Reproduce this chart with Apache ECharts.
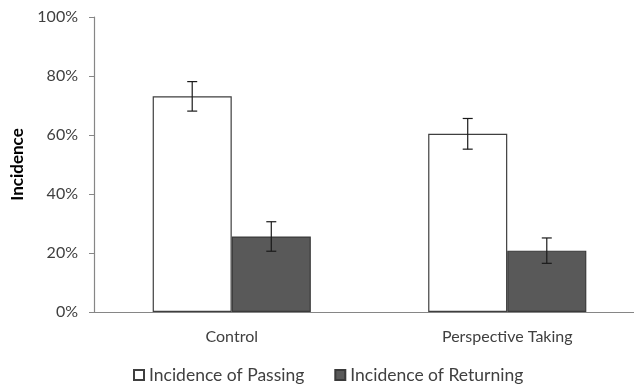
<!DOCTYPE html>
<html>
<head>
<meta charset="utf-8">
<script src="https://cdn.jsdelivr.net/npm/echarts@6/dist/echarts.min.js"></script>
<style>
  html, body { margin: 0; padding: 0; background: #fff; }
  #chart { width: 634px; height: 389px; }
</style>
</head>
<body>
<div id="chart"></div>
<script>
// Group labels and incidence values (%) with their error margins
const categories = ['Control', 'Perspective Taking'];
const passing = [73.1, 60.4];
const passingErr = [5.0, 5.2];
const returning = [25.6, 20.8];
const returningErr = [5.0, 4.3];
const seriesNames = ['Incidence of Passing', 'Incidence of Returning'];
const yTicks = [0, 20, 40, 60, 80, 100];

const FONT = 'Lato';
const TEXT = '#404040';
const BAR_FRAC = 0.287; // each bar's share of the category band

const chart = echarts.init(document.getElementById('chart'), null, { renderer: 'canvas' });

// Error bar whiskers drawn at the centre of each bar
function errorSeries(values, errs, side) {
  return {
    type: 'custom',
    silent: true,
    z: 5,
    data: values.map((v, i) => [i, v, errs[i]]),
    renderItem: function (params, api) {
      const i = api.value(0);
      const v = api.value(1);
      const e = api.value(2);
      const band = api.size([1, 0])[0];
      const dx = side * band * BAR_FRAC / 2;
      const top = api.coord([i, v + e]);
      const bot = api.coord([i, v - e]);
      const x = top[0] + dx;
      const cap = 5;
      const style = { stroke: '#1a1a1a', lineWidth: 1.2, fill: null };
      return {
        type: 'group',
        children: [
          { type: 'line', shape: { x1: x, y1: top[1], x2: x, y2: bot[1] }, style },
          { type: 'line', shape: { x1: x - cap, y1: top[1], x2: x + cap, y2: top[1] }, style },
          { type: 'line', shape: { x1: x - cap, y1: bot[1], x2: x + cap, y2: bot[1] }, style }
        ]
      };
    }
  };
}

chart.setOption({
  animation: false,
  backgroundColor: '#fff',
  textStyle: { fontFamily: FONT, color: TEXT },
  grid: {
    left: 94, top: 17, width: 551, bottom: 77,
    containLabel: false,
    outerBoundsMode: 'none'
  },
  legend: {
    bottom: 0,
    left: 128,
    itemWidth: 10,
    itemHeight: 10,
    itemGap: 30,
    icon: 'rect',
    textStyle: { fontFamily: FONT, fontSize: 17.5, color: TEXT, padding: [0, 0, 0, 0] },
    data: seriesNames
  },
  xAxis: {
    type: 'category',
    data: categories,
    axisLine: { lineStyle: { color: '#868686', width: 1.2 } },
    axisTick: { show: false },
    axisLabel: { fontFamily: FONT, fontSize: 16, color: TEXT, margin: 17 }
  },
  yAxis: {
    type: 'value',
    min: yTicks[0],
    max: yTicks[yTicks.length - 1],
    interval: 20,
    name: 'Incidence',
    nameLocation: 'middle',
    nameGap: 68,
    nameRotate: 90,
    nameTextStyle: { fontFamily: FONT, fontSize: 17, fontWeight: 'bold', color: '#000' },
    axisLine: { show: true, lineStyle: { color: '#868686', width: 1.2 } },
    axisTick: { show: true, length: 5, lineStyle: { color: '#868686' } },
    splitLine: { show: false },
    axisLabel: {
      fontFamily: FONT, fontSize: 16, color: TEXT, margin: 16,
      formatter: v => v + '%'
    }
  },
  series: [
    {
      name: seriesNames[0],
      type: 'bar',
      data: passing,
      barWidth: (BAR_FRAC * 100) + '%',
      barGap: '0%',
      itemStyle: { color: '#ffffff', borderColor: '#3f3f3f', borderWidth: 1.2 }
    },
    {
      name: seriesNames[1],
      type: 'bar',
      data: returning,
      barWidth: (BAR_FRAC * 100) + '%',
      barGap: '0%',
      itemStyle: { color: '#595959', borderColor: '#3a3a3a', borderWidth: 1.2 }
    },
    errorSeries(passing, passingErr, -1),
    errorSeries(returning, returningErr, 1)
  ]
});
</script>
</body>
</html>
